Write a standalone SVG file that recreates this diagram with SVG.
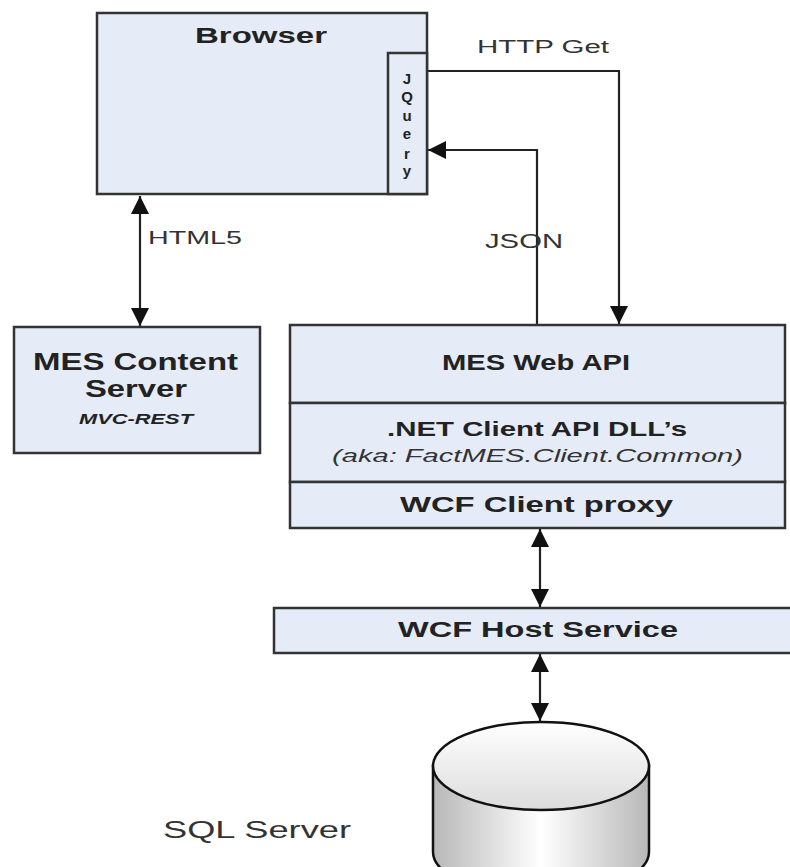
<svg xmlns="http://www.w3.org/2000/svg" width="790" height="867" viewBox="0 0 790 867">
<style>
.box{fill:#E6ECF7;stroke:#333;stroke-width:2.5}
.b{font-family:"Liberation Sans",Arial,sans-serif;font-weight:bold;fill:#222}
.r{font-family:"Liberation Sans",Arial,sans-serif;fill:#333}
.line{fill:none;stroke:#222;stroke-width:2.2}
</style>
<defs>
<marker id="ah" markerUnits="userSpaceOnUse" markerWidth="18" markerHeight="18" refX="18" refY="9" orient="auto-start-reverse" viewBox="0 0 18 18">
<path d="M0,0 L18,9 L0,18 z" fill="#111"/>
</marker>
<linearGradient id="side" x1="0" y1="0" x2="1" y2="0">
<stop offset="0" stop-color="#b8b8b8"/>
<stop offset="0.5" stop-color="#ffffff"/>
<stop offset="1" stop-color="#b8b8b8"/>
</linearGradient>
<linearGradient id="top" x1="0" y1="0" x2="0" y2="1">
<stop offset="0" stop-color="#ffffff"/>
<stop offset="1" stop-color="#dcdcdc"/>
</linearGradient>
</defs>

<g id="connectors">
<line class="line" x1="140" y1="196" x2="140" y2="326" marker-start="url(#ah)" marker-end="url(#ah)"/>
<polyline class="line" points="427,71 619,71 619,324" marker-end="url(#ah)"/>
<polyline class="line" points="537,325 537,150 428,150" marker-end="url(#ah)"/>
<line class="line" x1="540" y1="529" x2="540" y2="607" marker-start="url(#ah)" marker-end="url(#ah)"/>
<line class="line" x1="540" y1="654" x2="540" y2="721" marker-start="url(#ah)" marker-end="url(#ah)"/>
<text class="r" x="148" y="244" font-size="19" textLength="94" lengthAdjust="spacingAndGlyphs">HTML5</text>
<text class="r" x="477" y="53" font-size="18" textLength="132" lengthAdjust="spacingAndGlyphs">HTTP Get</text>
<text class="r" x="485" y="248" font-size="20" textLength="78" lengthAdjust="spacingAndGlyphs">JSON</text>
</g>

<g id="browser">
<rect class="box" x="97" y="13" width="330" height="181"/>
<text class="b" x="195" y="43" font-size="22" textLength="132" lengthAdjust="spacingAndGlyphs">Browser</text>
</g>

<g id="jquery">
<rect class="box" x="388" y="53" width="39" height="141"/>
<g class="b" font-size="15" text-anchor="middle">
<text x="407" y="84">J</text>
<text x="407" y="102">Q</text>
<text x="407" y="121">u</text>
<text x="407" y="139">e</text>
<text x="407" y="159">r</text>
<text x="407" y="176">y</text>
</g>
</g>

<g id="content-server">
<rect class="box" x="14" y="327" width="246" height="126"/>
<text class="b" x="33" y="370" font-size="23" textLength="205" lengthAdjust="spacingAndGlyphs">MES Content</text>
<text class="b" x="85" y="397" font-size="23" textLength="102" lengthAdjust="spacingAndGlyphs">Server</text>
<text class="b" x="79" y="424" font-size="14" font-style="italic" textLength="114" lengthAdjust="spacingAndGlyphs">MVC-REST</text>
</g>

<g id="web-api">
<rect class="box" x="290" y="325" width="495" height="78"/>
<text class="b" x="442" y="370" font-size="22" textLength="188" lengthAdjust="spacingAndGlyphs">MES Web API</text>
</g>

<g id="client-dll">
<rect class="box" x="290" y="403" width="495" height="79"/>
<text class="b" x="387" y="436" font-size="21" textLength="300" lengthAdjust="spacingAndGlyphs">.NET Client API DLL’s</text>
<text class="r" x="332" y="462" font-size="18" font-style="italic" fill="#444" textLength="411" lengthAdjust="spacingAndGlyphs">(aka: FactMES.Client.Common)</text>
</g>

<g id="wcf-client">
<rect class="box" x="290" y="482" width="495" height="46"/>
<text class="b" x="400" y="512" font-size="22" textLength="273" lengthAdjust="spacingAndGlyphs">WCF Client proxy</text>
</g>

<g id="wcf-host">
<rect class="box" x="274" y="608" width="530" height="45"/>
<text class="b" x="398" y="637" font-size="22" textLength="280" lengthAdjust="spacingAndGlyphs">WCF Host Service</text>
</g>

<g id="sql-server">
<path d="M433,766 L433,852 A108,44 0 0 0 649,852 L649,766 Z" fill="url(#side)" stroke="#111" stroke-width="2.5"/>
<ellipse cx="541" cy="766" rx="108" ry="44" fill="url(#top)" stroke="#111" stroke-width="2.5"/>
<text class="r" x="163" y="838" font-size="24" textLength="188" lengthAdjust="spacingAndGlyphs">SQL Server</text>
</g>
</svg>
